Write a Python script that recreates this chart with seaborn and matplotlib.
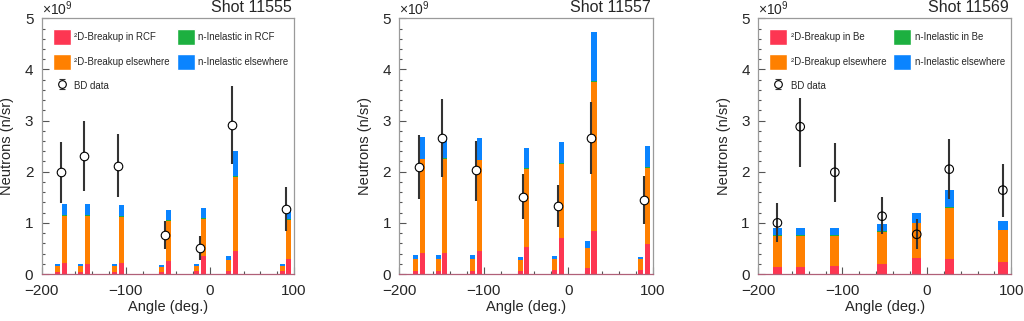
import numpy as np
import pandas as pd
import matplotlib
matplotlib.use("Agg")
import matplotlib.pyplot as plt
from matplotlib.patches import Patch
from matplotlib.ticker import MultipleLocator
import seaborn as sns

sns.set_style("white")
plt.rcParams["font.family"] = ["Liberation Sans", "DejaVu Sans"]
plt.rcParams["mathtext.fontset"] = "custom"
plt.rcParams["mathtext.rm"] = "Liberation Sans"
plt.rcParams["mathtext.default"] = "regular"

# ---------------- data (units of 1e9 n/sr) ----------------
ANGLES = [-177, -150, -109, -53, -12, 26.5, 90]
SHOTS = ["Shot 11555", "Shot 11557", "Shot 11569"]
COMPONENTS = ["2D-Breakup in target", "2D-Breakup elsewhere",
              "n-Inelastic in target", "n-Inelastic elsewhere"]

# Shot 11555 - low (left) bars
s1_low_red = [0.045, 0.045, 0.045, 0.045, 0.05, 0.065, 0.053]
s1_low_orange = [0.115, 0.115, 0.115, 0.092, 0.105, 0.209, 0.103]
s1_low_green = [0, 0, 0, 0, 0, 0, 0]
s1_low_blue = [0.036, 0.036, 0.036, 0.039, 0.035, 0.084, 0.034]
# Shot 11555 - high (right) bars
s1_high_red = [0.215, 0.20, 0.22, 0.26, 0.35, 0.44, 0.29]
s1_high_orange = [0.925, 0.94, 0.90, 0.78, 0.73, 1.46, 0.766]
s1_high_green = [0.01, 0.01, 0.015, 0.01, 0.01, 0.02, 0.01]
s1_high_blue = [0.21, 0.22, 0.215, 0.195, 0.21, 0.48, 0.199]
s1_bd = [1.99, 2.31, 2.12, 0.756, 0.515, 2.92, 1.27]
s1_bd_hi = [2.59, 3.00, 2.73, 1.04, 0.74, 3.68, 1.71]
s1_bd_lo = [1.38, 1.63, 1.50, 0.48, 0.27, 2.16, 0.85]

# Shot 11557
s2_low_red = [0.06, 0.06, 0.06, 0.065, 0.08, 0.11, 0.08]
s2_low_orange = [0.23, 0.23, 0.23, 0.205, 0.21, 0.40, 0.21]
s2_low_green = [0, 0, 0, 0, 0, 0, 0]
s2_low_blue = [0.08, 0.08, 0.08, 0.06, 0.06, 0.14, 0.05]
s2_high_red = [0.42, 0.41, 0.44, 0.52, 0.70, 0.85, 0.58]
s2_high_orange = [1.82, 1.84, 1.78, 1.54, 1.46, 2.91, 1.50]
s2_high_green = [0.015, 0.015, 0.015, 0.015, 0.015, 0.015, 0.015]
s2_high_blue = [0.425, 0.425, 0.425, 0.385, 0.415, 0.955, 0.405]
s2_bd = [2.09, 2.66, 2.03, 1.51, 1.33, 2.66, 1.45]
s2_bd_hi = [2.72, 3.42, 2.61, 1.96, 1.75, 3.37, 1.92]
s2_bd_lo = [1.46, 1.90, 1.43, 1.08, 0.91, 1.96, 0.98]

# Shot 11569 (single bar per angle)
s3_red = [0.14, 0.14, 0.15, 0.20, 0.31, 0.29, 0.23]
s3_orange = [0.61, 0.61, 0.60, 0.63, 0.68, 1.01, 0.63]
s3_green = [0.005, 0.005, 0.005, 0.005, 0.005, 0.005, 0.01]
s3_blue = [0.135, 0.135, 0.145, 0.145, 0.195, 0.335, 0.16]
s3_bd = [1.00, 2.88, 1.99, 1.13, 0.776, 2.05, 1.64]
s3_bd_hi = [1.39, 3.44, 2.57, 1.50, 1.07, 2.64, 2.16]
s3_bd_lo = [0.63, 2.10, 1.41, 0.78, 0.48, 1.46, 1.12]

LEGEND_1 = ["²D-Breakup in RCF", "²D-Breakup elsewhere", "BD data",
            "n-Inelastic in RCF", "n-Inelastic elsewhere"]
LEGEND_3 = ["²D-Breakup in Be", "²D-Breakup elsewhere", "BD data",
            "n-Inelastic in Be", "n-Inelastic elsewhere"]

# ---------------- style ----------------
RED, ORANGE, GREEN, BLUE = "#fd3652", "#ff8000", "#1db040", "#0a84ff"
PALETTE = dict(zip(COMPONENTS, [RED, ORANGE, GREEN, BLUE]))
HUE_ORDER = COMPONENTS[::-1]  # last level is stacked at the bottom


def make_df(centers, red, orange, green, blue):
    rows = []
    for comp, vals in zip(COMPONENTS, [red, orange, green, blue]):
        for c, v in zip(centers, vals):
            rows.append({"pos": c, "val": v, "comp": comp})
    return pd.DataFrame(rows)


fig = plt.figure(figsize=(10.24, 3.21), dpi=100)
W, H = 1024.0, 321.0
lefts = [41.7, 399.3, 758.0]
widths = [252.3, 253.4, 253.3]
axes = [fig.add_axes([l / W, 47 / H, w / W, 255.7 / H]) for l, w in zip(lefts, widths)]


def style_axis(ax, shot):
    ax.set_xlim(-200, 100)
    ax.set_ylim(0, 5)
    ax.xaxis.set_major_locator(MultipleLocator(100))
    ax.xaxis.set_minor_locator(MultipleLocator(20))
    ax.yaxis.set_major_locator(MultipleLocator(1))
    ax.yaxis.set_minor_locator(MultipleLocator(0.2))
    ax.tick_params(which="both", direction="in", top=False, right=False,
                   bottom=True, left=True, color="#555555", width=0.8)
    ax.tick_params(which="major", length=4.7, labelsize=11, pad=6)
    ax.tick_params(which="minor", length=2.3)
    ax.tick_params(axis="x", which="major", pad=7)
    for s in ["top", "right", "left"]:
        ax.spines[s].set_color("#9a9a9a")
        ax.spines[s].set_linewidth(0.9)
    ax.spines["bottom"].set_color("#b06078")
    ax.spines["bottom"].set_linewidth(0.9)
    ax.set_xlabel("Angle (deg.)", fontsize=10.5)
    ax.set_ylabel("Neutrons (n/sr)", fontsize=10.5)
    ax.xaxis.set_label_coords(0.5, -0.102)
    ax.yaxis.set_label_coords(-0.108, 0.5)
    ax.annotate(shot, xy=(1, 1), xycoords="axes fraction", xytext=(-1.5, 4.6),
                textcoords="offset points", ha="right", va="baseline", fontsize=11.5)
    ax.annotate("×10$^{9}$", xy=(0, 1), xycoords="axes fraction", xytext=(0, 0.5),
                textcoords="offset points", ha="left", va="bottom", fontsize=10)


def draw_bd(ax, y, lo, hi, face):
    y = np.array(y); lo = np.array(lo); hi = np.array(hi)
    ax.errorbar(ANGLES, y, yerr=[y - lo, hi - y], fmt="none", ecolor="#333333",
                elinewidth=1.5, zorder=3)
    sns.scatterplot(x=ANGLES, y=y, ax=ax, marker="o", s=38, facecolor=face,
                    edgecolor="black", linewidth=0.8, zorder=4, legend=False)


def two_bar_panel(ax, low, high, bd, shot):
    centers_low = [a - 4 for a in ANGLES]
    centers_high = [a + 4 for a in ANGLES]
    edges = []
    for a in ANGLES:
        edges += [a - 7, a - 1, a + 1, a + 7]
    df = pd.concat([make_df(centers_low, *low), make_df(centers_high, *high)])
    sns.histplot(data=df, x="pos", weights="val", hue="comp", hue_order=HUE_ORDER,
                 palette=PALETTE, multiple="stack", bins=edges, linewidth=0,
                 alpha=1, legend=False, ax=ax, shrink=1)
    draw_bd(ax, *bd, face="white")
    style_axis(ax, shot)


def add_legend(ax, labels):
    eb = ax.errorbar([-1e4], [1], yerr=0.3, fmt="o", mfc="white", mec="black",
                     ms=5.5, mew=0.8, ecolor="#333333", elinewidth=1.0, capsize=2)
    handles = [Patch(facecolor=RED), Patch(facecolor=ORANGE), eb,
               Patch(facecolor=GREEN), Patch(facecolor=BLUE)]
    ax.legend(handles, labels, ncol=2, loc="upper left",
              bbox_to_anchor=(0.043, 0.957), frameon=False, fontsize=6.9,
              handlelength=1.875, handleheight=2.19, labelspacing=0.89,
              handletextpad=0.4, columnspacing=0.7, borderpad=0, borderaxespad=0)


two_bar_panel(axes[0],
              (s1_low_red, s1_low_orange, s1_low_green, s1_low_blue),
              (s1_high_red, s1_high_orange, s1_high_green, s1_high_blue),
              (s1_bd, s1_bd_lo, s1_bd_hi), SHOTS[0])
add_legend(axes[0], LEGEND_1)
axes[0].set_xlim(-200, 100)

two_bar_panel(axes[1],
              (s2_low_red, s2_low_orange, s2_low_green, s2_low_blue),
              (s2_high_red, s2_high_orange, s2_high_green, s2_high_blue),
              (s2_bd, s2_bd_lo, s2_bd_hi), SHOTS[1])

ax = axes[2]
edges3 = []
for a in ANGLES:
    edges3 += [a - 5.5, a + 5.5]
df3 = make_df(ANGLES, s3_red, s3_orange, s3_green, s3_blue)
sns.histplot(data=df3, x="pos", weights="val", hue="comp", hue_order=HUE_ORDER,
             palette=PALETTE, multiple="stack", bins=edges3, linewidth=0,
             alpha=1, legend=False, ax=ax, shrink=1)
draw_bd(ax, s3_bd, s3_bd_lo, s3_bd_hi, face="none")
style_axis(ax, SHOTS[2])
add_legend(ax, LEGEND_3)
ax.set_xlim(-200, 100)

fig.savefig("out.png", dpi=100)
